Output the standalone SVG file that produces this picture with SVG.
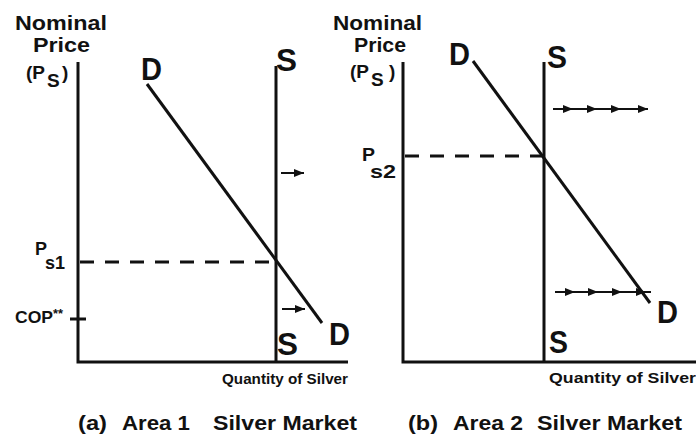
<svg xmlns="http://www.w3.org/2000/svg" width="696" height="438" viewBox="0 0 696 438">
<defs>
<style>
text{font-family:"Liberation Sans",Arial,sans-serif;font-weight:bold;fill:#111}
.ax{stroke:#111;stroke-width:3;fill:none}
.dl{stroke:#111;stroke-width:3;fill:none}
.dash{stroke:#111;stroke-width:3;stroke-dasharray:14 11;fill:none}
.ar{stroke:#111;stroke-width:2;fill:none}
.t{font-size:21px}
.p{font-size:19px}
.lb{font-size:31px}
.q{font-size:15px}
.cap{font-size:21px}
</style>
<marker id="ah" viewBox="0 0 10 8" refX="10" refY="4" markerWidth="10" markerHeight="8" markerUnits="userSpaceOnUse" orient="auto">
<path d="M0,0 L10,4 L0,8 Z" fill="#111"/>
</marker>
</defs>
<g id="panel-a">
<g id="a-axes">
<path class="ax" d="M78,62 V362 H348"/>
<path class="ax" d="M70,319 H86"/>
</g>
<g id="a-ylabel">
<text class="t" x="15" y="30" textLength="92" lengthAdjust="spacingAndGlyphs">Nominal</text>
<text class="t" x="33" y="52" textLength="57" lengthAdjust="spacingAndGlyphs">Price</text>
<text class="p" x="26" y="79">(P</text>
<text class="p" x="47" y="87" font-size="16">S</text>
<text class="p" x="62" y="79">)</text>
</g>
<g id="a-supply">
<path class="ax" d="M276,66 V362"/>
<text class="lb" x="276" y="71" textLength="21" lengthAdjust="spacingAndGlyphs">S</text>
<text class="lb" x="277" y="355" font-size="28" textLength="21" lengthAdjust="spacingAndGlyphs">S</text>
</g>
<g id="a-demand">
<path class="dl" d="M147,84 L322,323"/>
<text class="lb" x="141" y="80" textLength="21" lengthAdjust="spacingAndGlyphs">D</text>
<text class="lb" x="329" y="345" font-size="28" textLength="21" lengthAdjust="spacingAndGlyphs">D</text>
</g>
<g id="a-price">
<path class="dash" d="M80,262 H276"/>
<text class="p" x="35" y="255" textLength="12" lengthAdjust="spacingAndGlyphs">P</text>
<text class="p" x="45" y="269" textLength="20" lengthAdjust="spacingAndGlyphs">s1</text>
<text x="15" y="323" font-size="17" textLength="38" lengthAdjust="spacingAndGlyphs">COP</text>
<text x="53" y="318" font-size="12" textLength="10" lengthAdjust="spacingAndGlyphs">**</text>
</g>
<g id="a-arrows">
<path class="ar" d="M281,173 H304" marker-end="url(#ah)"/>
<path class="ar" d="M282,309 H305" marker-end="url(#ah)"/>
</g>
<text class="q" x="222" y="384" textLength="126" lengthAdjust="spacingAndGlyphs">Quantity of Silver</text>
<g id="a-caption">
<text class="cap" x="78" y="430" textLength="29" lengthAdjust="spacingAndGlyphs">(a)</text>
<text class="cap" x="122" y="430" textLength="68" lengthAdjust="spacingAndGlyphs">Area 1</text>
<text class="cap" x="213" y="430" textLength="144" lengthAdjust="spacingAndGlyphs">Silver Market</text>
</g>
</g>
<g id="panel-b">
<g id="b-axes">
<path class="ax" d="M403,62 V362 H696"/>
</g>
<g id="b-ylabel">
<text class="t" x="333" y="30" textLength="89" lengthAdjust="spacingAndGlyphs">Nominal</text>
<text class="t" x="354" y="52" textLength="52" lengthAdjust="spacingAndGlyphs">Price</text>
<text class="p" x="350" y="78">(P</text>
<text class="p" x="371" y="86" font-size="16">S</text>
<text class="p" x="389" y="78">)</text>
</g>
<g id="b-supply">
<path class="ax" d="M544,62 V362"/>
<text class="lb" x="547" y="68" font-size="26" textLength="20" lengthAdjust="spacingAndGlyphs">S</text>
<text class="lb" x="549" y="353" font-size="28" textLength="19" lengthAdjust="spacingAndGlyphs">S</text>
</g>
<g id="b-demand">
<path class="dl" d="M473,61 L650,303"/>
<text class="lb" x="449" y="65" font-size="26" textLength="21" lengthAdjust="spacingAndGlyphs">D</text>
<text class="lb" x="657" y="323" font-size="28" textLength="21" lengthAdjust="spacingAndGlyphs">D</text>
</g>
<g id="b-price">
<path class="dash" d="M405,156 H544"/>
<text class="p" x="362" y="161" textLength="13" lengthAdjust="spacingAndGlyphs">P</text>
<text class="p" x="370" y="178" textLength="26" lengthAdjust="spacingAndGlyphs">s2</text>
</g>
<g id="b-arrows">
<polyline class="ar" points="553,109 573,109 597,109 621,109 648,109" marker-mid="url(#ah)" marker-end="url(#ah)"/>
<polyline class="ar" points="555,292 575,292 598,292 622,292 646,292" marker-mid="url(#ah)" marker-end="url(#ah)"/>
<path class="ar" d="M646,292 H651"/>
</g>
<text class="q" x="549" y="383" textLength="147" lengthAdjust="spacingAndGlyphs">Quantity of Silver</text>
<g id="b-caption">
<text class="cap" x="408" y="430" textLength="30" lengthAdjust="spacingAndGlyphs">(b)</text>
<text class="cap" x="453" y="430" textLength="70" lengthAdjust="spacingAndGlyphs">Area 2</text>
<text class="cap" x="537" y="430" textLength="145" lengthAdjust="spacingAndGlyphs">Silver Market</text>
</g>
</g>
</svg>
